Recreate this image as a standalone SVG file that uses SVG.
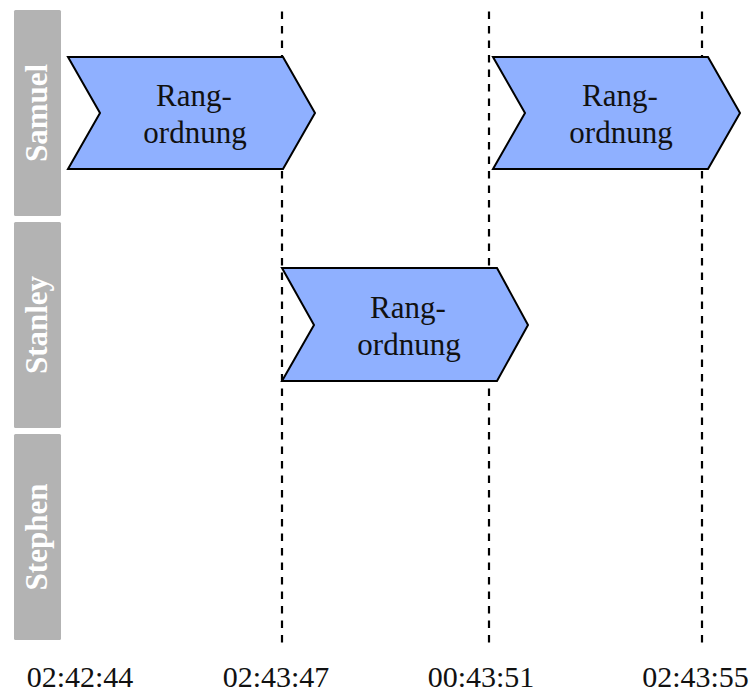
<svg xmlns="http://www.w3.org/2000/svg" width="754" height="694" viewBox="0 0 754 694">
  <style>
    .lane { fill: #b3b3b3; }
    .lane-label { font-family: "Liberation Serif", "Times New Roman", serif; font-weight: bold; font-size: 31px; fill: #ffffff; text-anchor: middle; }
    .grid { stroke: #000000; stroke-width: 2.2; stroke-dasharray: 7.5 7; fill: none; }
    .step { fill: #8fb0ff; stroke: #000000; stroke-width: 2; stroke-linejoin: miter; }
    .step-label { font-family: "Liberation Serif", "Times New Roman", serif; font-size: 31px; fill: #111111; text-anchor: middle; }
    .time { font-family: "Liberation Serif", "Times New Roman", serif; font-size: 30px; fill: #111111; text-anchor: middle; }
  </style>

  <rect width="754" height="694" fill="#ffffff"/>

  <!-- swimlane headers -->
  <g id="lane-samuel">
    <rect class="lane" x="14" y="10" width="47" height="206" rx="1.5"/>
    <text class="lane-label" transform="translate(47,113) rotate(-90)">Samuel</text>
  </g>
  <g id="lane-stanley">
    <rect class="lane" x="14" y="222" width="47" height="206" rx="1.5"/>
    <text class="lane-label" transform="translate(47,325) rotate(-90)">Stanley</text>
  </g>
  <g id="lane-stephen">
    <rect class="lane" x="14" y="434" width="47" height="206" rx="1.5"/>
    <text class="lane-label" transform="translate(47,537) rotate(-90)">Stephen</text>
  </g>

  <!-- time markers -->
  <g id="connectors">
    <line class="grid" x1="282" y1="11.5" x2="282" y2="648"/>
    <line class="grid" x1="489" y1="11.5" x2="489" y2="648"/>
    <line class="grid" x1="702" y1="11.5" x2="702" y2="648"/>
  </g>

  <!-- process steps -->
  <g id="step-samuel-1">
    <polygon class="step" points="68,57 283,57 315,113 283,169 68,169 100,113"/>
    <text class="step-label" x="194" y="106">Rang-</text>
    <text class="step-label" x="195" y="143">ordnung</text>
  </g>
  <g id="step-stanley-1">
    <polygon class="step" points="282,268 497,268 528,325 497,381 282,381 314,325"/>
    <text class="step-label" x="408" y="318">Rang-</text>
    <text class="step-label" x="409" y="355">ordnung</text>
  </g>
  <g id="step-samuel-2">
    <polygon class="step" points="493,57 708,57 740,113 708,169 493,169 525,113"/>
    <text class="step-label" x="620" y="106">Rang-</text>
    <text class="step-label" x="621" y="143">ordnung</text>
  </g>

  <!-- time axis labels -->
  <g id="axis-labels">
    <text class="time" x="80" y="687">02:42:44</text>
    <text class="time" x="276" y="687">02:43:47</text>
    <text class="time" x="481" y="687">00:43:51</text>
    <text class="time" x="695.5" y="687">02:43:55</text>
  </g>
</svg>
